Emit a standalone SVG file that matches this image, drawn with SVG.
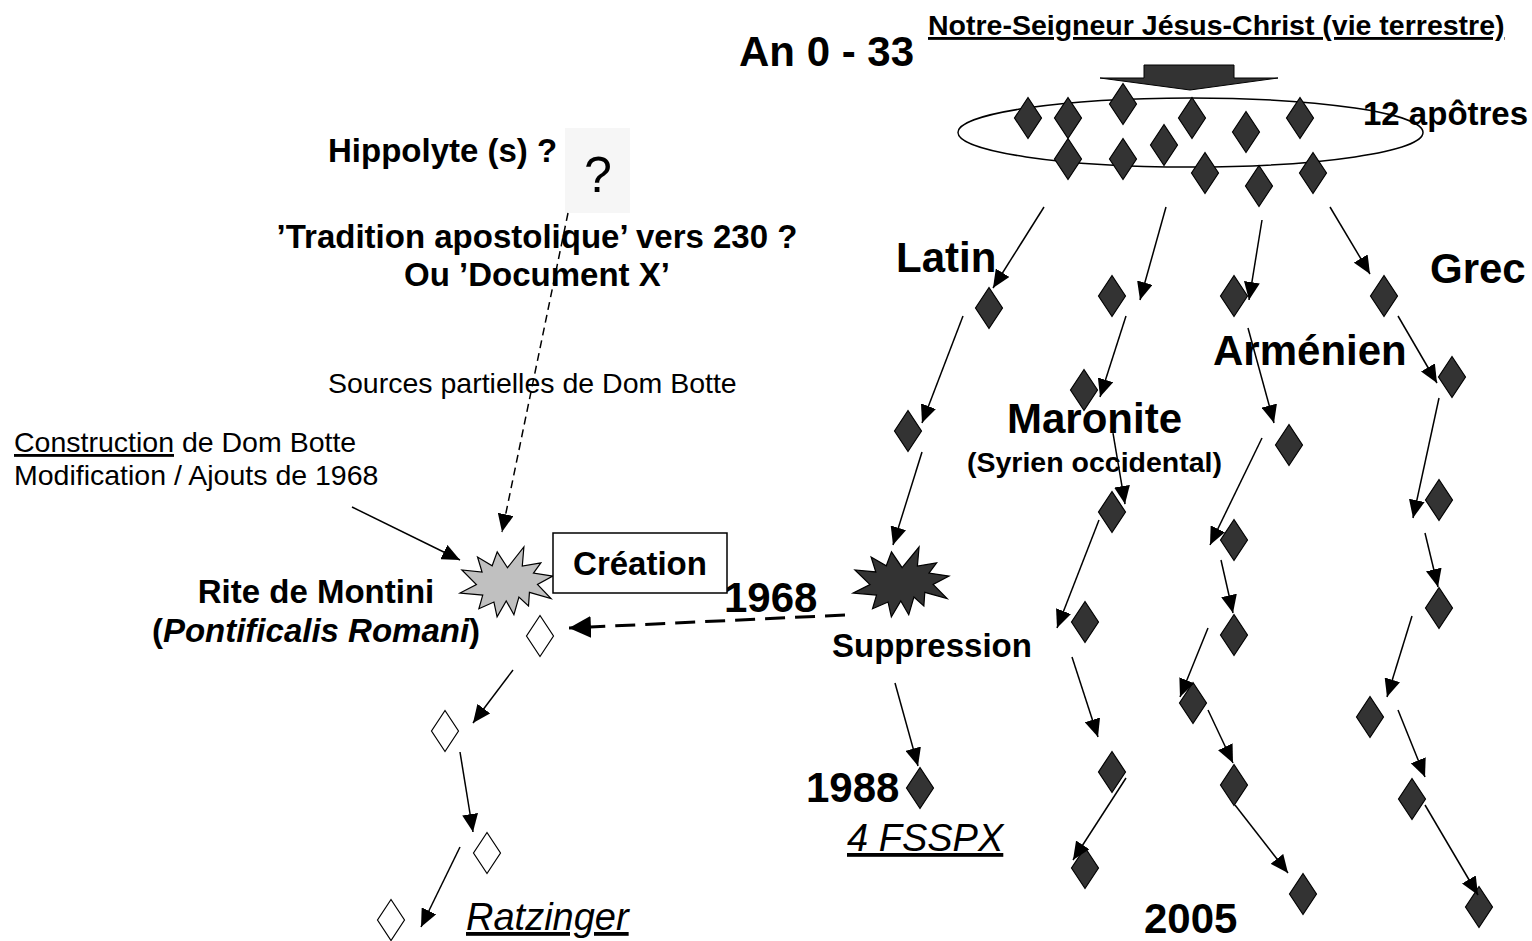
<svg xmlns="http://www.w3.org/2000/svg" xmlns:xlink="http://www.w3.org/1999/xlink" width="1532" height="941" viewBox="0 0 1532 941">
  <style>
    text { font-family: "Liberation Sans", Arial, sans-serif; fill: #000; }
    .big { font-size: 42px; font-weight: bold; }
    .mid { font-size: 33px; font-weight: bold; }
    .sm  { font-size: 28.5px; font-weight: bold; }
    .reg { font-size: 28.5px; }
    .it  { font-size: 38px; font-style: italic; text-decoration: underline; }
    .dk  { fill: #333; stroke: #000; stroke-width: 1.2; }
    .wh  { fill: #fff; stroke: #000; stroke-width: 1.2; }
    .ln  { fill: none; stroke: #000; stroke-width: 1.5; }
    .dash { fill: none; stroke: #000; stroke-width: 1.5; stroke-dasharray: 8 5; }
    .dashb { fill: none; stroke: #000; stroke-width: 3; stroke-dasharray: 20 10; }
  </style>
  <defs>
    <polygon id="dia" points="0,-20.5 13.5,0 0,20.5 -13.5,0"/>
    <!-- explosion outline, 211 x 196 units -->
    <polygon id="seal" vector-effect="non-scaling-stroke" points="108,58 145.22,0 141.55,53.25 183.8,44.57 167.02,73.15 210.97,81.37 176.07,104.75 206.86,144.31 157.8,127.11 155.72,165.08 133.89,140.11 122.52,189.57 105.03,150.92 84.3,195.84 77.1,154.08 42.9,173.08 51.67,134.58 0,129.1 37.32,105.32 4.25,64.35 50.13,69.95 39.81,28.05 73.11,52.72 84.58,13.5"/>
    <marker id="ah" markerUnits="userSpaceOnUse" markerWidth="20" markerHeight="16" refX="18" refY="8" orient="auto">
      <path d="M0,0 L18,8 L0,16 z" fill="#000"/>
    </marker>
    <marker id="ahb" markerUnits="userSpaceOnUse" markerWidth="24" markerHeight="22" refX="22" refY="11" orient="auto">
      <path d="M0,0 L22,11 L0,22 z" fill="#000"/>
    </marker>
  </defs>

  <rect width="1532" height="941" fill="#fff"/>

  <!-- heading -->
  <g id="heading">
    <text class="big" x="739" y="66">An 0 - 33</text>
    <text class="sm" x="928" y="35" text-decoration="underline">Notre-Seigneur Jésus-Christ (vie terrestre)</text>
    <polygon points="1144,65 1234,65 1234,78 1278,78 1190,90 1100,78 1144,78" fill="#333" stroke="#000" stroke-width="1"/>
  </g>

  <!-- the twelve apostles -->
  <g id="apostles">
    <ellipse cx="1190.5" cy="132.5" rx="232.5" ry="34.5" fill="none" stroke="#000" stroke-width="1.5"/>
    <use href="#dia" class="dk" x="1028" y="118"/>
    <use href="#dia" class="dk" x="1068" y="118"/>
    <use href="#dia" class="dk" x="1123" y="104"/>
    <use href="#dia" class="dk" x="1192" y="118"/>
    <use href="#dia" class="dk" x="1246" y="132"/>
    <use href="#dia" class="dk" x="1300" y="118"/>
    <use href="#dia" class="dk" x="1068" y="159"/>
    <use href="#dia" class="dk" x="1123" y="159"/>
    <use href="#dia" class="dk" x="1164" y="145"/>
    <use href="#dia" class="dk" x="1205" y="173"/>
    <use href="#dia" class="dk" x="1259" y="186"/>
    <use href="#dia" class="dk" x="1313" y="173"/>
    <text class="mid" x="1363" y="125">12 apôtres</text>
  </g>

  <!-- rite labels -->
  <g id="labels">
    <text class="big" x="896" y="272">Latin</text>
    <text class="big" x="1430" y="283">Grec</text>
    <text class="big" x="1213" y="365">Arménien</text>
    <text class="big" x="1007" y="433">Maronite</text>
    <text class="sm" x="967" y="472">(Syrien occidental)</text>
    <text class="big" x="724" y="612">1968</text>
    <text class="mid" x="832" y="657">Suppression</text>
    <text class="big" x="806" y="802">1988</text>
    <text class="it" x="847" y="851">4 FSSPX</text>
    <text class="big" x="1144" y="933">2005</text>
  </g>

  <!-- Latin line -->
  <g id="latin-1"><use href="#dia" class="dk" x="989" y="308"/></g>
  <g id="latin-2"><use href="#dia" class="dk" x="908" y="431"/></g>
  <g id="latin-1968"><use href="#seal" class="dk" transform="translate(853,547) scale(0.455,0.357)"/></g>
  <g id="latin-1988"><use href="#dia" class="dk" x="920" y="788"/></g>

  <!-- Maronite line -->
  <g id="maronite-1"><use href="#dia" class="dk" x="1112" y="296"/></g>
  <g id="maronite-2"><use href="#dia" class="dk" x="1084" y="390"/></g>
  <g id="maronite-3"><use href="#dia" class="dk" x="1112" y="512"/></g>
  <g id="maronite-4"><use href="#dia" class="dk" x="1085" y="622"/></g>
  <g id="maronite-5"><use href="#dia" class="dk" x="1112" y="772"/></g>
  <g id="maronite-6"><use href="#dia" class="dk" x="1085" y="868"/></g>

  <!-- Armenian line -->
  <g id="armenien-1"><use href="#dia" class="dk" x="1234" y="296"/></g>
  <g id="armenien-2"><use href="#dia" class="dk" x="1289" y="445"/></g>
  <g id="armenien-3"><use href="#dia" class="dk" x="1234" y="540"/></g>
  <g id="armenien-4"><use href="#dia" class="dk" x="1234" y="635"/></g>
  <g id="armenien-5"><use href="#dia" class="dk" x="1193" y="703"/></g>
  <g id="armenien-6"><use href="#dia" class="dk" x="1234" y="785"/></g>
  <g id="armenien-7"><use href="#dia" class="dk" x="1303" y="894"/></g>

  <!-- Greek line -->
  <g id="grec-1"><use href="#dia" class="dk" x="1384" y="296"/></g>
  <g id="grec-2"><use href="#dia" class="dk" x="1452" y="377"/></g>
  <g id="grec-3"><use href="#dia" class="dk" x="1439" y="500"/></g>
  <g id="grec-4"><use href="#dia" class="dk" x="1439" y="608"/></g>
  <g id="grec-5"><use href="#dia" class="dk" x="1370" y="717"/></g>
  <g id="grec-6"><use href="#dia" class="dk" x="1412" y="799"/></g>
  <g id="grec-7"><use href="#dia" class="dk" x="1479" y="907"/></g>

  <!-- sources -->
  <g id="hippolyte">
    <text class="mid" x="328" y="162">Hippolyte (s) ?</text>
    <rect x="565" y="128" width="65" height="85" fill="#f6f6f6"/>
    <text x="598" y="192" text-anchor="middle" font-size="50">?</text>
  </g>
  <g id="tradition">
    <text class="mid" x="537" y="248" text-anchor="middle">’Tradition apostolique’ vers 230 ?</text>
    <text class="mid" x="537" y="286" text-anchor="middle">Ou ’Document X’</text>
  </g>
  <g id="sources-botte">
    <text class="reg" x="328" y="393">Sources partielles de Dom Botte</text>
  </g>
  <g id="construction">
    <text class="reg" x="14" y="452"><tspan text-decoration="underline">Construction</tspan> de Dom Botte</text>
    <text class="reg" x="14" y="485">Modification / Ajouts de 1968</text>
  </g>

  <!-- Montini rite -->
  <g id="montini">
    <use href="#seal" transform="translate(460,547) scale(0.44,0.357)" fill="#c0c0c0" stroke="#000" stroke-width="1.2"/>
    <text class="mid" x="316" y="603" text-anchor="middle">Rite de Montini</text>
    <text class="mid" x="316" y="642" text-anchor="middle">(<tspan font-style="italic">Pontificalis Romani</tspan>)</text>
  </g>
  <g id="creation">
    <rect x="553" y="533" width="174" height="60" fill="#fff" stroke="#000" stroke-width="1.5"/>
    <text class="mid" x="640" y="575" text-anchor="middle">Création</text>
  </g>
  <g id="montini-1"><use href="#dia" class="wh" x="540" y="636"/></g>
  <g id="montini-2"><use href="#dia" class="wh" x="445" y="731"/></g>
  <g id="montini-3"><use href="#dia" class="wh" x="487" y="853"/></g>
  <g id="montini-4"><use href="#dia" class="wh" x="391" y="920"/></g>
  <g id="ratzinger"><text class="it" x="466" y="930">Ratzinger</text></g>

  <!-- connectors -->
  <g id="connectors">
    <!-- Latin -->
    <line class="ln" x1="1044" y1="207" x2="993" y2="288" marker-end="url(#ah)"/>
    <line class="ln" x1="963" y1="316" x2="922" y2="423" marker-end="url(#ah)"/>
    <line class="ln" x1="922" y1="452" x2="893" y2="545" marker-end="url(#ah)"/>
    <line class="ln" x1="895" y1="683" x2="918" y2="766" marker-end="url(#ah)"/>
    <!-- Maronite -->
    <line class="ln" x1="1166" y1="207" x2="1140" y2="300" marker-end="url(#ah)"/>
    <line class="ln" x1="1126" y1="316" x2="1100" y2="397" marker-end="url(#ah)"/>
    <line class="ln" x1="1113" y1="433" x2="1125" y2="504" marker-end="url(#ah)"/>
    <line class="ln" x1="1099" y1="520" x2="1057" y2="628" marker-end="url(#ah)"/>
    <line class="ln" x1="1072" y1="657" x2="1098" y2="737" marker-end="url(#ah)"/>
    <line class="ln" x1="1126" y1="778" x2="1073" y2="860" marker-end="url(#ah)"/>
    <!-- Armenian -->
    <line class="ln" x1="1262" y1="220" x2="1249" y2="300" marker-end="url(#ah)"/>
    <line class="ln" x1="1248" y1="328" x2="1274" y2="423" marker-end="url(#ah)"/>
    <line class="ln" x1="1262" y1="438" x2="1210" y2="545" marker-end="url(#ah)"/>
    <line class="ln" x1="1221" y1="560" x2="1233" y2="613" marker-end="url(#ah)"/>
    <line class="ln" x1="1208" y1="628" x2="1180" y2="697" marker-end="url(#ah)"/>
    <line class="ln" x1="1208" y1="710" x2="1233" y2="763" marker-end="url(#ah)"/>
    <line class="ln" x1="1235" y1="805" x2="1288" y2="873" marker-end="url(#ah)"/>
    <!-- Greek -->
    <line class="ln" x1="1330" y1="207" x2="1370" y2="274" marker-end="url(#ah)"/>
    <line class="ln" x1="1398" y1="316" x2="1437" y2="383" marker-end="url(#ah)"/>
    <line class="ln" x1="1439" y1="398" x2="1413" y2="518" marker-end="url(#ah)"/>
    <line class="ln" x1="1425" y1="533" x2="1438" y2="587" marker-end="url(#ah)"/>
    <line class="ln" x1="1412" y1="616" x2="1387" y2="697" marker-end="url(#ah)"/>
    <line class="ln" x1="1398" y1="710" x2="1425" y2="777" marker-end="url(#ah)"/>
    <line class="ln" x1="1425" y1="805" x2="1478" y2="895" marker-end="url(#ah)"/>
    <!-- Montini -->
    <line class="ln" x1="513" y1="670" x2="473" y2="723" marker-end="url(#ah)"/>
    <line class="ln" x1="460" y1="752" x2="473" y2="832" marker-end="url(#ah)"/>
    <line class="ln" x1="460" y1="847" x2="421" y2="927" marker-end="url(#ah)"/>
    <line class="ln" x1="352" y1="507" x2="460" y2="560" marker-end="url(#ah)"/>
    <line class="dash" x1="568" y1="213" x2="502" y2="532" marker-end="url(#ah)"/>
    <line class="dashb" x1="845" y1="615" x2="569" y2="628" marker-end="url(#ahb)"/>
  </g>
</svg>
